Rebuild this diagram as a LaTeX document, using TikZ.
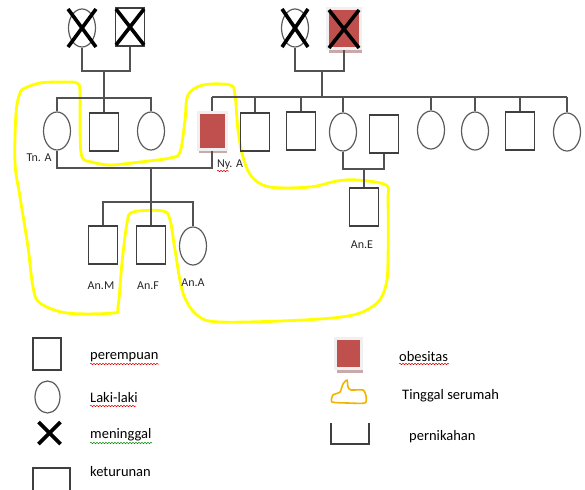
\documentclass[tikz,border=0pt]{standalone}
\usepackage{fontspec}
\setmainfont{Carlito}
\usetikzlibrary{shapes.geometric,decorations.pathmorphing,shadows}
\definecolor{obred}{HTML}{C0504D}
\definecolor{linec}{HTML}{3F3F3F}
\definecolor{hl}{HTML}{FFFF00}
\definecolor{thumbc}{HTML}{F2B200}
\definecolor{txt}{HTML}{262626}
\definecolor{shadowc}{HTML}{C9A9A9}
\tikzset{
 sq/.style={draw=linec, line width=1.2pt, rectangle, minimum width=29pt, minimum height=38pt, inner sep=0pt},
 ci/.style={draw=linec!85, line width=1.2pt, ellipse, minimum width=27pt, minimum height=38pt, inner sep=0pt},
 ob/.style={rectangle, fill=obred, draw=black!6, line width=3pt, inner sep=0pt,
   drop shadow={shadow xshift=1pt, shadow yshift=-4pt, fill=shadowc, opacity=1}},
 conn/.style={draw=linec!90, line width=1.2pt},
 xm/.style={line width=3.6pt, black},
 lab/.style={font=\fontsize{12}{14}\selectfont, text=txt, inner sep=0pt},
 leg/.style={font=\fontsize{14.5}{16}\selectfont, text=black, inner sep=0pt, anchor=west},
 wavr/.style={red!85!black, line width=0.5pt, decorate, decoration={snake, amplitude=0.7pt, segment length=3pt}},
 wavg/.style={green!55!black, line width=0.5pt, decorate, decoration={snake, amplitude=0.7pt, segment length=3pt}},
 hlpath/.style={draw=hl, line width=2.8pt, line join=round},
}
\begin{document}
\begin{tikzpicture}[x=1pt,y=-1pt]
\useasboundingbox (0,0) rectangle (585,489);
% highlight (living together)
\draw[hlpath] plot[smooth cycle, tension=0.55] coordinates {
 (25,88) (40,83) (60,82) (77,83) (80,92) (80,130) (82,157) (92,162) (110,165) (140,162) (170,158)
 (180,152) (185,120) (188,95) (203,85) (230,85) (235,95) (238,130) (243,157) (252,177) (270,187)
 (310,187) (337,181) (357,180) (386,185) (388,200) (388,260) (386,285) (377,303) (353,315)
 (303,320) (220,322) (197,315) (183,293) (175,250) (170,220) (163,211) (133,212) (127,223)
 (122,263) (118,307) (113,313) (67,313) (40,303) (33,287) (28,247) (20,197) (15,163) (16,113) (20,93)};

% generation 1
\node[ci] (gpa) at (82,28) {};
\node[sq] (gpb) at (130,27) {};
\node[ci] (gpc) at (295,28) {};
\node[ob, minimum width=33pt, minimum height=40pt] (gpd) at (344,29) {};
\foreach \n/\w/\h in {gpa/14/19, gpb/14/18, gpc/13/19, gpd/15/19}{
  \draw[xm] ([shift={(-\w,-\h)}]\n.center) -- ([shift={(\w,\h)}]\n.center);
  \draw[xm] ([shift={(\w,-\h)}]\n.center) -- ([shift={(-\w,\h)}]\n.center);
}

% generation 2 left
\node[ci] (tnA) at (57,131) {};
\node[sq] (s2) at (104,132) {};
\node[ci] (c2) at (151,131) {};
% generation 2 right
\node[ob, minimum width=28pt, minimum height=36pt] (nyA) at (212,131) {};
\node[sq] (r1) at (255,132) {};
\node[sq] (r2) at (301,131) {};
\node[ci] (r3) at (343,132) {};
\node[sq] (sp) at (384,134) {};
\node[ci] (r4) at (431,130) {};
\node[ci] (r5) at (475,131) {};
\node[sq] (r6) at (520,131) {};
\node[ci] (r7) at (567,132) {};

% generation 3
\node[sq] (anM) at (103,245) {};
\node[sq] (anF) at (151,245) {};
\node[ci] (anA) at (193,246) {};
\node[sq] (anE) at (364,207) {};

% connectors
\coordinate (mL) at (104,71);
\draw[conn] (gpa.south) |- (mL) -| (gpb.south);
\draw[conn] (mL) -- (s2.north);
\coordinate (bL) at (0,98);
\draw[conn] (tnA.north) -- (tnA.north |- bL) -- (c2.north |- bL) -- (c2.north);

\coordinate (mR) at (322,71);
\draw[conn] (gpc.south) |- (mR) -| (gpd.south);
\coordinate (bR) at (0,97);
\draw[conn] (mR) -- (mR |- bR);
\draw[conn] (nyA.north |- bR) -- (r7.north |- bR);
\foreach \n in {nyA,r1,r2,r3,r4,r5,r6,r7} \draw[conn] (\n.north |- bR) -- (\n.north);

\coordinate (mT) at (151,168);
\draw[conn] (tnA.south) |- (mT) -| (nyA.south);
\draw[conn] (mT) -- (anF.north);
\coordinate (bG) at (0,202);
\draw[conn] (anM.north) |- (anA.north |- bG) -- (anA.north);

\coordinate (mE) at (364,169);
\draw[conn] (r3.south) |- (mE) -| (sp.south);
\draw[conn] (mE) -- (anE.north);

% labels
\node[lab] (lTn) at (39,158) {Tn. A};
\node[lab] (lNy) at (230,165) {Ny. A};
\draw[wavr] (217,171) -- (229,171);
\node[lab] (lM) at (101,286) {An.M};
\node[lab] (lF) at (148,286) {An.F};
\node[lab] (lA) at (193,283) {An.A};
\node[lab] (lE) at (362,245) {An.E};

% legend
\node[sq, minimum width=28pt, minimum height=32pt] (kSq) at (47,354) {};
\node[leg] (tSq) at (90,357) {perempuan};
\draw[wavr] (90,364) -- (159,364);
\node[ci, minimum width=25pt, minimum height=32pt] (kCi) at (47.5,397) {};
\node[leg] (tCi) at (90,398) {Laki-laki};
\draw[wavr] (90,406) -- (136,406);
\coordinate (kX) at (49.5,433);
\draw[xm] ([shift={(-11,-11)}]kX) -- ([shift={(11,11)}]kX);
\draw[xm] ([shift={(11,-11)}]kX) -- ([shift={(-11,11)}]kX);
\node[leg] (tX) at (90,435) {meninggal};
\draw[wavg] (90,443) -- (152,443);
\coordinate (kK1) at (33,490);
\coordinate (kK2) at (70,490);
\draw[conn, draw=linec] (kK1) -- (33,468) -- (70,468) -- (kK2);
\node[leg] (tK) at (90,472) {keturunan};

\node[ob, minimum width=26pt, minimum height=30pt] (kOb) at (348.5,353.5) {};
\node[leg] (tOb) at (399,357) {obesitas};
\draw[wavr] (399,364) -- (449,364);
\draw[draw=thumbc, line width=1.6pt, line join=round] plot[smooth cycle, tension=0.4] coordinates {
 (332,402) (333,395) (340,392) (343,384) (347,380) (348,387) (351,390) (363,390) (366,396) (365,403) (348,403)};
\node[leg] (tTh) at (402,396) {Tinggal serumah};
\coordinate (kP1) at (331,423);
\coordinate (kP2) at (369,423);
\draw[conn, draw=linec] (kP1) -- (331,444) -- (369,444) -- (kP2);
\node[leg] (tP) at (409,437) {pernikahan};
\end{tikzpicture}
\end{document}
